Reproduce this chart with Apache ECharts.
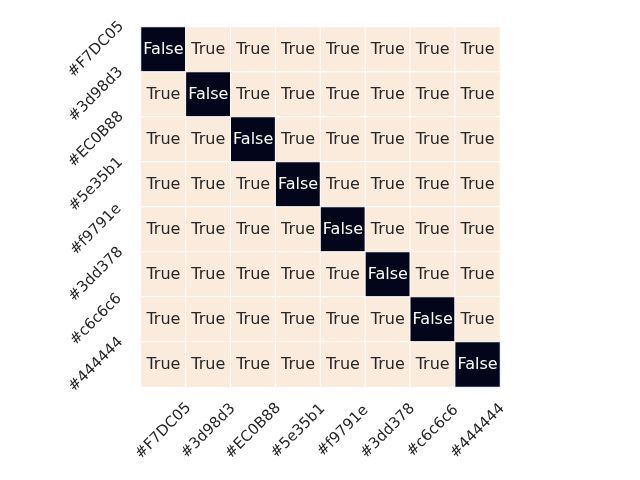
<!DOCTYPE html>
<html>
<head>
<meta charset="utf-8">
<script src="https://cdn.jsdelivr.net/npm/echarts@6/dist/echarts.min.js"></script>
<style>html,body{margin:0;padding:0;background:#fff}#c{width:640px;height:480px}</style>
</head>
<body>
<div id="c"></div>
<script>
const colorsX = ['#F7DC05','#3d98d3','#EC0B88','#5e35b1','#f9791e','#3dd378','#c6c6c6','#444444'];
const colorsY = ['#F7DC05','#3d98d3','#EC0B88','#5e35b1','#f9791e','#3dd378','#c6c6c6','#444444'];
// matrix[row][col]: 1 = True, 0 = False
const matrix = [
  [0,1,1,1,1,1,1,1],
  [1,0,1,1,1,1,1,1],
  [1,1,0,1,1,1,1,1],
  [1,1,1,0,1,1,1,1],
  [1,1,1,1,0,1,1,1],
  [1,1,1,1,1,0,1,1],
  [1,1,1,1,1,1,0,1],
  [1,1,1,1,1,1,1,0]
];
const FONT = 'DejaVu Sans';
const data = [];
matrix.forEach((row, r) => row.forEach((v, c) => {
  data.push({
    value: [c, r, v],
    itemStyle: { color: v ? '#FAEBDD' : '#03051A' },
    label: { color: v ? '#262626' : '#ffffff' }
  });
}));
const chart = echarts.init(document.getElementById('c'));
chart.setOption({
  animation: false,
  backgroundColor: '#ffffff',
  grid: { left: 141, top: 27, width: 359, height: 360 },
  xAxis: {
    type: 'category', data: colorsX,
    axisLine: { show: false }, axisTick: { show: false }, splitLine: { show: false },
    axisLabel: { rotate: 45, align: 'center', verticalAlign: 'middle', margin: 44,
      fontFamily: FONT, fontSize: 15, color: '#262626', interval: 0 }
  },
  yAxis: {
    type: 'category', data: colorsY, inverse: true,
    axisLine: { show: false }, axisTick: { show: false }, splitLine: { show: false },
    axisLabel: { rotate: 45, align: 'center', verticalAlign: 'middle', margin: 45,
      fontFamily: FONT, fontSize: 15, color: '#262626', interval: 0 }
  },
  series: [{
    type: 'heatmap',
    data: data,
    itemStyle: { borderColor: '#ffffff', borderWidth: 1 },
    label: {
      show: true, fontFamily: FONT, fontSize: 16,
      formatter: p => p.value[2] ? 'True' : 'False'
    },
    emphasis: { disabled: true }
  }]
});
</script>
</body>
</html>
